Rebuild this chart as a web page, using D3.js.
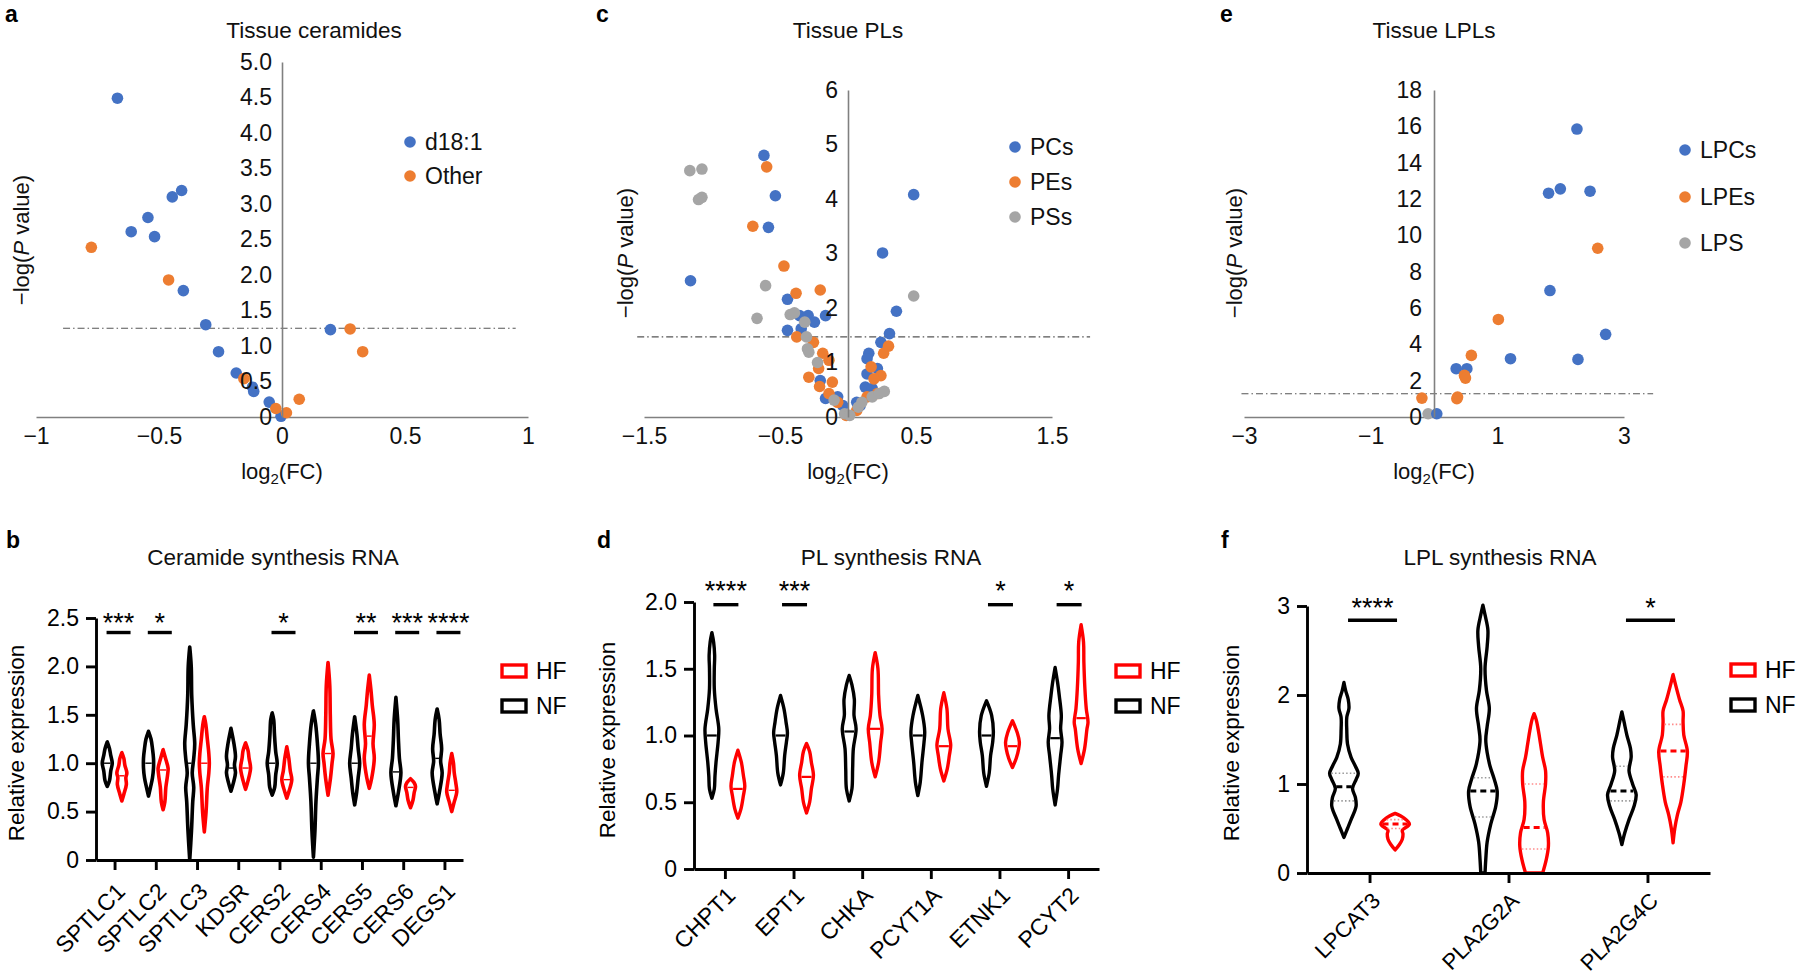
<!DOCTYPE html>
<html><head><meta charset="utf-8">
<script src="https://cdn.jsdelivr.net/npm/d3@7/dist/d3.min.js"></script>
<style>
html,body{margin:0;padding:0;background:#fff;}
svg{display:block;}
</style></head>
<body>
<svg id="chart" width="1800" height="980"></svg>
<script>
// ================= DATA =================
// Panel a: Tissue ceramides  [log2(FC), -log(P)]
const aD181 = [[-0.669,4.49],[-0.408,3.19],[-0.446,3.10],[-0.545,2.81],[-0.613,2.61],[-0.518,2.54],[-0.401,1.78],[-0.310,1.30],[-0.258,0.92],[-0.186,0.62],[-0.120,0.42],[-0.115,0.36],[-0.052,0.21],[-0.004,0.01],[0.197,1.23]];
const aOther = [[-0.775,2.39],[-0.461,1.93],[-0.155,0.54],[-0.025,0.12],[0.018,0.06],[0.070,0.25],[0.277,1.24],[0.328,0.92]];
const aThreshold = 1.25;
const aXTicks = [-1,-0.5,0,0.5,1];
const aXTickLabels = ["\u22121","\u22120.5","0","0.5","1"];
const aYTicks = [0,0.5,1,1.5,2,2.5,3,3.5,4,4.5,5];
const aYTickLabels = ["0","0.5","1.0","1.5","2.0","2.5","3.0","3.5","4.0","4.5","5.0"];

// Panel c: Tissue PLs
const cPCs = [[-0.618,4.80],[-0.534,4.06],[-0.585,3.48],[-1.158,2.50],[-0.445,2.16],[-0.356,1.86],[-0.293,1.86],[-0.247,1.74],[-0.165,1.86],[-0.445,1.59],[-0.344,1.62],[0.483,4.08],[0.254,3.01],[0.356,1.94],[0.305,1.53],[0.242,1.37],[0.153,1.17],[0.140,1.07],[0.140,0.79],[0.216,0.89],[0.127,0.55],[0.178,0.52],[0.064,0.27],[0.089,0.21],[-0.165,0.34],[-0.076,0.37],[-0.204,0.67],[-0.038,0.21]];
const cPEs = [[-0.598,4.59],[-0.700,3.50],[-0.471,2.77],[-0.382,2.27],[-0.204,2.33],[-0.377,1.47],[-0.254,1.37],[-0.186,1.17],[-0.140,1.04],[-0.216,0.89],[-0.288,0.73],[-0.115,0.64],[-0.209,0.56],[-0.140,0.43],[-0.076,0.27],[-0.013,0.03],[0.262,1.17],[0.298,1.30],[0.170,0.92],[0.242,0.76],[0.191,0.70],[0.216,0.43],[0.140,0.37],[0.064,0.12]];
const cPSs = [[-1.163,4.52],[-1.074,4.55],[-1.099,3.99],[-1.074,4.03],[-0.606,2.41],[-0.669,1.81],[-0.425,1.88],[-0.394,1.91],[-0.318,1.74],[-0.305,1.47],[-0.298,1.25],[-0.288,1.19],[-0.224,1.00],[-0.102,0.31],[-0.025,0.06],[0.013,0.03],[0.076,0.18],[0.102,0.27],[0.178,0.37],[0.229,0.43],[0.267,0.47],[0.483,2.22]];
const cThreshold = 1.47;
const cXTicks = [-1.5,-0.5,0.5,1.5];
const cXTickLabels = ["\u22121.5","\u22120.5","0.5","1.5"];
const cYTicks = [0,1,2,3,4,5,6];
const cYTickLabels = ["0","1","2","3","4","5","6"];

// Panel e: Tissue LPLs
const ePCs = [[2.257,15.85],[1.809,12.32],[1.995,12.56],[2.464,12.43],[1.831,6.96],[2.710,4.55],[1.208,3.21],[2.273,3.17],[0.350,2.66],[0.519,2.66],[0.044,0.18]];
const ePEs = [[2.585,9.29],[1.016,5.37],[0.590,3.39],[0.481,2.29],[0.497,2.14],[-0.191,1.04],[0.372,1.10],[0.361,1.01]];
const ePS = [[-0.093,0.18]];
const eThreshold = 1.28;
const eXTicks = [-3,-1,1,3];
const eXTickLabels = ["\u22123","\u22121","1","3"];
const eYTicks = [0,2,4,6,8,10,12,14,16,18];
const eYTickLabels = ["0","2","4","6","8","10","12","14","16","18"];

// Panel b: Ceramide synthesis RNA  (violin profiles: [value, relative density])
const bGenes = ["SPTLC1","SPTLC2","SPTLC3","KDSR","CERS2","CERS4","CERS5","CERS6","DEGS1"];
const bNF = [
  [[0.76,0],[0.82,0.45],[0.92,0.7],[1.0,1],[1.08,0.7],[1.15,0.45],[1.22,0]],
  [[0.66,0],[0.75,0.4],[0.85,0.8],[0.95,1],[1.05,1],[1.15,0.8],[1.25,0.5],[1.33,0]],
  [[0,0],[0.3,0.35],[0.6,0.6],[0.75,0.8],[0.9,0.5],[1.05,0.8],[1.2,1],[1.4,0.7],[1.7,0.4],[2.0,0.3],[2.2,0]],
  [[0.71,0],[0.8,0.5],[0.9,0.9],[0.98,0.7],[1.07,0.9],[1.2,0.6],[1.36,0]],
  [[0.67,0],[0.75,0.5],[0.88,0.7],[1.0,1],[1.12,0.7],[1.3,0.45],[1.45,0.3],[1.52,0]],
  [[0.03,0],[0.3,0.3],[0.6,0.5],[0.85,0.8],[1.0,1],[1.2,0.8],[1.4,0.45],[1.54,0]],
  [[0.57,0],[0.7,0.4],[0.85,0.7],[1.0,1],[1.15,0.7],[1.3,0.45],[1.48,0]],
  [[0.56,0],[0.7,0.5],[0.9,1],[1.05,0.7],[1.25,0.5],[1.45,0.35],[1.68,0]],
  [[0.58,0],[0.7,0.45],[0.9,1],[1.02,0.7],[1.15,0.9],[1.3,0.6],[1.45,0.4],[1.56,0]]
];
const bHF = [
  [[0.61,0],[0.68,0.4],[0.78,0.9],[0.85,0.8],[0.9,1],[0.98,0.6],[1.05,0.4],[1.11,0]],
  [[0.52,0],[0.6,0.35],[0.75,0.55],[0.88,0.9],[0.95,1],[1.03,0.6],[1.14,0]],
  [[0.29,0],[0.5,0.35],[0.75,0.6],[0.9,0.9],[1.0,1],[1.1,0.9],[1.25,0.6],[1.4,0.3],[1.48,0]],
  [[0.73,0],[0.82,0.5],[0.95,1],[1.05,0.7],[1.13,0.5],[1.21,0]],
  [[0.64,0],[0.72,0.5],[0.83,1],[0.92,0.7],[1.05,0.4],[1.17,0]],
  [[0.67,0],[0.85,0.5],[1.0,0.8],[1.1,1],[1.25,0.6],[1.5,0.45],[1.8,0.35],[2.04,0]],
  [[0.74,0],[0.85,0.5],[1.05,1],[1.2,0.75],[1.4,1],[1.6,0.6],[1.75,0.35],[1.91,0]],
  [[0.54,0],[0.62,0.5],[0.7,0.75],[0.76,1],[0.8,0.7],[0.84,0]],
  [[0.5,0],[0.6,0.5],[0.7,1],[0.8,0.8],[0.9,0.5],[1.0,0.35],[1.1,0]]
];
const bNFMedian = [1.0,1.0,1.0,0.95,1.0,1.0,1.0,0.91,1.05];
const bHFMedian = [0.87,0.93,1.0,0.95,0.83,1.1,1.28,0.75,0.72];
const bSig = [["SPTLC1","***"],["SPTLC2","*"],["CERS2","*"],["CERS5","**"],["CERS6","***"],["DEGS1","****"]];
const bYTicks = [0,0.5,1,1.5,2,2.5];
const bYTickLabels = ["0","0.5","1.0","1.5","2.0","2.5"];

// Panel d: PL synthesis RNA
const dGenes = ["CHPT1","EPT1","CHKA","PCYT1A","ETNK1","PCYT2"];
const dNF = [
  [[0.53,0],[0.6,0.35],[0.7,0.45],[0.8,0.6],[0.95,0.9],[1.05,1],[1.2,0.6],[1.35,0.35],[1.5,0.35],[1.6,0.4],[1.7,0.25],[1.77,0]],
  [[0.63,0],[0.72,0.4],[0.85,0.6],[0.95,0.85],[1.02,1],[1.1,0.8],[1.2,0.5],[1.3,0]],
  [[0.51,0],[0.6,0.4],[0.75,0.5],[0.9,0.6],[1.05,1],[1.15,0.7],[1.27,0.75],[1.38,0.4],[1.45,0]],
  [[0.55,0],[0.65,0.35],[0.8,0.6],[0.95,0.9],[1.03,1],[1.15,0.7],[1.3,0]],
  [[0.62,0],[0.72,0.4],[0.85,0.6],[0.95,0.9],[1.03,1],[1.15,0.75],[1.26,0]],
  [[0.48,0],[0.6,0.35],[0.7,0.5],[0.85,0.8],[0.95,1],[1.05,0.8],[1.15,0.9],[1.3,0.6],[1.4,0.35],[1.51,0]]
];
const dHF = [
  [[0.38,0],[0.45,0.45],[0.55,0.8],[0.62,1],[0.7,0.8],[0.8,0.5],[0.89,0]],
  [[0.42,0],[0.5,0.45],[0.6,0.7],[0.7,1],[0.8,0.7],[0.88,0.45],[0.94,0]],
  [[0.69,0],[0.8,0.5],[0.95,0.8],[1.05,1],[1.15,0.7],[1.3,0.5],[1.5,0.4],[1.62,0]],
  [[0.66,0],[0.75,0.5],[0.85,0.8],[0.93,1],[1.05,0.6],[1.2,0.45],[1.32,0]],
  [[0.76,0],[0.83,0.55],[0.9,0.9],[0.95,1],[1.02,0.7],[1.11,0]],
  [[0.79,0],[0.9,0.5],[1.05,0.85],[1.1,1],[1.2,0.75],[1.35,0.55],[1.55,0.4],[1.7,0.35],[1.83,0]]
];
const dNFMedian = [1.0,1.0,1.03,1.0,1.0,0.98];
const dHFMedian = [0.6,0.69,1.05,0.92,0.92,1.13];
const dSig = [["CHPT1","****"],["EPT1","***"],["ETNK1","*"],["PCYT2","*"]];
const dYTicks = [0,0.5,1,1.5,2];
const dYTickLabels = ["0","0.5","1.0","1.5","2.0"];

// Panel f: LPL synthesis RNA
const fGenes = ["LPCAT3","PLA2G2A","PLA2G4C"];
const fNF = [
  [[0.4,0],[0.5,0.25],[0.6,0.5],[0.75,0.85],[0.85,0.8],[0.95,0.6],[1.05,0.85],[1.12,1],[1.2,0.8],[1.3,0.5],[1.45,0.25],[1.6,0.2],[1.75,0.2],[1.85,0.35],[1.95,0.3],[2.05,0.12],[2.14,0]],
  [[0,0.15],[0.15,0.2],[0.35,0.3],[0.55,0.55],[0.75,0.9],[0.92,1],[1.05,0.8],[1.2,0.5],[1.35,0.3],[1.5,0.2],[1.65,0.3],[1.85,0.45],[2.05,0.25],[2.3,0.15],[2.55,0.3],[2.73,0.35],[2.9,0.15],[3.01,0]],
  [[0.32,0],[0.45,0.2],[0.6,0.5],[0.75,0.85],[0.88,1],[1.0,0.75],[1.15,0.5],[1.3,0.65],[1.4,0.6],[1.55,0.35],[1.7,0.15],[1.81,0]]
];
const fHF = [
  [[0.26,0],[0.32,0.3],[0.38,0.5],[0.44,0.55],[0.48,0.5],[0.55,1],[0.62,0.6],[0.67,0]],
  [[0,0.6],[0.15,0.85],[0.3,1],[0.45,0.95],[0.6,0.7],[0.8,0.65],[1.0,0.8],[1.15,0.8],[1.3,0.6],[1.45,0.45],[1.6,0.3],[1.72,0.15],[1.79,0]],
  [[0.34,0],[0.5,0.12],[0.65,0.3],[0.8,0.55],[1.0,0.75],[1.2,0.9],[1.37,1],[1.55,0.75],[1.7,0.7],[1.82,0.7],[1.95,0.45],[2.1,0.2],[2.23,0]]
];
const fNFMedian = [0.97,0.92,0.92];
const fHFMedian = [0.55,0.51,1.37];
const fNFQuart = [[0.81,1.12],[0.63,1.07],[0.81,1.2]];
const fHFQuart = [[0.5,0.6],[0.27,1.0],[1.08,1.67]];
const fSig = [["LPCAT3","****"],["PLA2G4C","*"]];
const fYTicks = [0,1,2,3];
const fYTickLabels = ["0","1","2","3"];

// ================= STYLE =================
const FONT = "'Liberation Sans', Arial, Helvetica, sans-serif";
const BLUE = "#4472C4", ORANGE = "#ED7D31", GRAY = "#A5A5A5";
const RED = "#FF0000", BLACK = "#000000";
const svg = d3.select("#chart").attr("font-family", FONT);

function letter(txt, x, y) {
  svg.append("text").attr("x", x).attr("y", y).attr("font-size", 23).attr("font-weight", "bold").attr("fill", "#000").text(txt);
}
function title(txt, x, y) {
  svg.append("text").attr("x", x).attr("y", y).attr("text-anchor", "middle").attr("font-size", 22.5).attr("fill", "#111").text(txt);
}

// ================= VOLCANO =================
function volcano(o) {
  const x = d3.scaleLinear().domain(o.xDomain).range(o.xRange);
  const y = d3.scaleLinear().domain(o.yDomain).range(o.yRange);
  const g = svg.append("g");

  g.append("line")
    .attr("x1", x(o.thrSpan[0])).attr("x2", x(o.thrSpan[1]))
    .attr("y1", y(o.thr)).attr("y2", y(o.thr))
    .attr("stroke", "#555").attr("stroke-width", 1.2).attr("stroke-dasharray", "7,3,1.5,3");

  const xa = g.append("g").attr("transform", `translate(0,${y(0)})`)
    .call(d3.axisBottom(x).tickValues(o.xTicks).tickFormat((d, i) => o.xLabels[i]).tickSize(0).tickSizeOuter(0).tickPadding(11));
  const ya = g.append("g").attr("transform", `translate(${x(0)},0)`)
    .call(d3.axisLeft(y).tickValues(o.yTicks).tickFormat((d, i) => o.yLabels[i]).tickSize(0).tickSizeOuter(0).tickPadding(o.yPad));
  [xa, ya].forEach(a => {
    a.attr("font-family", FONT).attr("font-size", 23);
    a.select(".domain").attr("stroke", "#808080").attr("stroke-width", 1.6);
    a.selectAll("text").attr("fill", "#111");
  });

  o.series.forEach(s => {
    g.append("g").selectAll("circle").data(s.data).join("circle")
      .attr("cx", d => x(d[0])).attr("cy", d => y(d[1])).attr("r", 5.8).attr("fill", s.color);
  });
  ya.raise();

  o.legend.forEach((s, i) => {
    g.append("circle").attr("cx", o.legX).attr("cy", o.legY[i]).attr("r", 5.8).attr("fill", s.color);
    g.append("text").attr("x", o.legX + 15).attr("y", o.legY[i]).attr("dy", "0.35em")
      .attr("font-size", 23).attr("fill", "#111").text(s.name);
  });

  const yl = g.append("text").attr("transform", `translate(${o.yLabX},${o.yLabY}) rotate(-90)`)
    .attr("text-anchor", "middle").attr("dy", "0.35em").attr("font-size", 22).attr("fill", "#111");
  yl.append("tspan").text("\u2212log(");
  yl.append("tspan").attr("font-style", "italic").text("P");
  yl.append("tspan").text(" value)");
  const xl = g.append("text").attr("x", x(0)).attr("y", 479).attr("text-anchor", "middle").attr("font-size", 22).attr("fill", "#111");
  xl.append("tspan").text("log");
  xl.append("tspan").attr("font-size", 15).attr("dy", 5).text("2");
  xl.append("tspan").attr("dy", -5).text("(FC)");

  title(o.title, o.titleX, 38);
}

volcano({
  xDomain: [-1, 1], xRange: [36, 528], yDomain: [0, 5], yRange: [417, 62],
  xTicks: aXTicks, xLabels: aXTickLabels, yTicks: aYTicks, yLabels: aYTickLabels, yPad: 10,
  thr: aThreshold, thrSpan: [-0.89, 0.95],
  series: [{ data: aD181, color: BLUE }, { data: aOther, color: ORANGE }],
  legend: [{ name: "d18:1", color: BLUE }, { name: "Other", color: ORANGE }],
  legX: 410, legY: [142, 176],
  yLabX: 21, yLabY: 240, title: "Tissue ceramides", titleX: 314
});
volcano({
  xDomain: [-1.5, 1.5], xRange: [644, 1052], yDomain: [0, 6], yRange: [417, 90],
  xTicks: cXTicks, xLabels: cXTickLabels, yTicks: cYTicks, yLabels: cYTickLabels, yPad: 10,
  thr: cThreshold, thrSpan: [-1.55, 1.78],
  series: [{ data: cPCs, color: BLUE }, { data: cPEs, color: ORANGE }, { data: cPSs, color: GRAY }],
  legend: [{ name: "PCs", color: BLUE }, { name: "PEs", color: ORANGE }, { name: "PSs", color: GRAY }],
  legX: 1015, legY: [147, 182, 217],
  yLabX: 625, yLabY: 253, title: "Tissue PLs", titleX: 848
});
volcano({
  xDomain: [-3, 3], xRange: [1244, 1624], yDomain: [0, 18], yRange: [417, 90],
  xTicks: eXTicks, xLabels: eXTickLabels, yTicks: eYTicks, yLabels: eYTickLabels, yPad: 12,
  thr: eThreshold, thrSpan: [-3.04, 3.46],
  series: [{ data: ePS, color: GRAY }, { data: ePCs, color: BLUE }, { data: ePEs, color: ORANGE }],
  legend: [{ name: "LPCs", color: BLUE }, { name: "LPEs", color: ORANGE }, { name: "LPS", color: GRAY }],
  legX: 1685, legY: [150, 197, 243],
  yLabX: 1234, yLabY: 253, title: "Tissue LPLs", titleX: 1434
});

// ================= VIOLINS =================
function violinPanel(o) {
  const x = d3.scalePoint().domain(o.genes).range(o.xRange).padding(0.45);
  const y = d3.scaleLinear().domain(o.yDomain).range(o.yRange);
  const g = svg.append("g");
  const wS = d3.scaleLinear().domain([0, 1]).range([0, o.maxHW]);

  const groups = [
    { color: BLACK, prof: o.nf, med: o.nfMed, q: o.nfQ, off: -o.off, qColor: "#9a9a9a" },
    { color: RED, prof: o.hf, med: o.hfMed, q: o.hfQ, off: o.off, qColor: "#ff8a8a" }
  ];
  groups.forEach(gr => {
    o.genes.forEach((gene, i) => {
      const prof = gr.prof[i];
      const cx = x(gene) + gr.off;
      const area = d3.area().curve(d3.curveCatmullRom.alpha(0.5))
        .y(d => y(d[0])).x0(d => cx - wS(d[1])).x1(d => cx + wS(d[1]));
      g.append("path").attr("d", area(prof)).attr("fill", "#fff")
        .attr("stroke", gr.color).attr("stroke-width", o.sw).attr("stroke-linejoin", "round");
      const wAt = d3.scaleLinear().domain(prof.map(p => p[0])).range(prof.map(p => p[1])).clamp(true);
      const hwAt = v => Math.max(0, wS(wAt(v)) - o.sw / 2);
      if (gr.q) {
        gr.q[i].forEach(v => {
          const hw = hwAt(v);
          g.append("line").attr("x1", cx - hw).attr("x2", cx + hw).attr("y1", y(v)).attr("y2", y(v))
            .attr("stroke", gr.qColor).attr("stroke-width", 1.6).attr("stroke-dasharray", "1.5,2.2");
        });
      }
      const m = gr.med[i], hw = hwAt(m);
      g.append("line").attr("x1", cx - hw).attr("x2", cx + hw).attr("y1", y(m)).attr("y2", y(m))
        .attr("stroke", gr.color).attr("stroke-width", o.medW)
        .attr("stroke-dasharray", o.medDash || null);
    });
  });

  const ya = g.append("g").attr("transform", `translate(${o.xRange[0]},0)`)
    .call(d3.axisLeft(y).tickValues(o.yTicks).tickFormat((d, i) => o.yLabels[i]).tickSize(10).tickSizeOuter(0).tickPadding(7));
  const xa = g.append("g").attr("transform", `translate(0,${o.yRange[0]})`)
    .call(d3.axisBottom(x).tickSize(10).tickSizeOuter(0).tickFormat(""));
  [ya, xa].forEach(a => {
    a.attr("font-family", FONT).attr("font-size", 23).attr("color", "#000");
    a.selectAll("path,line").attr("stroke-width", 2.9);
  });
  g.selectAll(".cat").data(o.genes).join("text").attr("class", "cat")
    .attr("transform", d => `translate(${x(d) + o.labDx},${o.yRange[0] + o.labDy}) rotate(-45)`)
    .attr("text-anchor", "end").attr("font-size", o.labFs).attr("fill", "#000").text(d => d);

  o.sig.forEach(([gene, stars]) => {
    const cx = x(gene) + o.sigDx;
    const yy = y(o.sigLevel);
    g.append("line").attr("x1", cx - o.sigHalf).attr("x2", cx + o.sigHalf).attr("y1", yy).attr("y2", yy)
      .attr("stroke", "#000").attr("stroke-width", 3.4);
    g.append("text").attr("x", cx).attr("y", yy - o.starGap).attr("text-anchor", "middle")
      .attr("font-size", 27).attr("fill", "#000").text(stars);
  });

  [["HF", RED], ["NF", BLACK]].forEach(([lab, col], i) => {
    g.append("rect").attr("x", o.legX).attr("y", o.legY[i] - 6).attr("width", 24).attr("height", 12)
      .attr("fill", "none").attr("stroke", col).attr("stroke-width", 3.4);
    g.append("text").attr("x", o.legX + 34).attr("y", o.legY[i]).attr("dy", "0.36em")
      .attr("font-size", 23).attr("fill", "#000").text(lab);
  });

  g.append("text").attr("transform", `translate(${o.yLabX},${o.yLabY}) rotate(-90)`)
    .attr("text-anchor", "middle").attr("dy", "0.35em").attr("font-size", 22.5).attr("fill", "#000")
    .text("Relative expression");
  title(o.title, o.titleX, 565);
}

violinPanel({
  genes: bGenes, nf: bNF, hf: bHF, nfMed: bNFMedian, hfMed: bHFMedian,
  xRange: [96, 463], yDomain: [0, 2.5], yRange: [860, 618],
  yTicks: bYTicks, yLabels: bYTickLabels,
  maxHW: 5, sw: 3.6, off: 7.3, medW: 1.4,
  labDx: 12, labDy: 33, labFs: 23,
  sig: bSig, sigLevel: 2.35, sigDx: 4, sigHalf: 12, starGap: 1,
  legX: 502, legY: [671, 706],
  yLabX: 16, yLabY: 743, title: "Ceramide synthesis RNA", titleX: 273
});
violinPanel({
  genes: dGenes, nf: dNF, hf: dHF, nfMed: dNFMedian, hfMed: dHFMedian,
  xRange: [694, 1099], yDomain: [0, 2], yRange: [869, 602],
  yTicks: dYTicks, yLabels: dYTickLabels,
  maxHW: 6.9, sw: 3.4, off: 13, medW: 2.2,
  labDx: 12, labDy: 28, labFs: 23,
  sig: dSig, sigLevel: 1.98, sigDx: 1, sigHalf: 12.5, starGap: 5,
  legX: 1116, legY: [671, 706],
  yLabX: 607, yLabY: 740, title: "PL synthesis RNA", titleX: 891
});
violinPanel({
  genes: fGenes, nf: fNF, hf: fHF, nfMed: fNFMedian, hfMed: fHFMedian, nfQ: fNFQuart, hfQ: fHFQuart,
  xRange: [1307, 1710], yDomain: [0, 3], yRange: [873, 606],
  yTicks: fYTicks, yLabels: fYTickLabels,
  maxHW: 14.3, sw: 3.4, off: 25.6, medW: 3, medDash: "6,4",
  labDx: 12, labDy: 29, labFs: 22,
  sig: fSig, sigLevel: 2.84, sigDx: 3, sigHalf: 24.5, starGap: 3,
  legX: 1731, legY: [670, 705],
  yLabX: 1231, yLabY: 743, title: "LPL synthesis RNA", titleX: 1500
});

letter("a", 5, 22); letter("c", 596, 22); letter("e", 1220, 22);
letter("b", 6, 548); letter("d", 597, 548); letter("f", 1221, 548);
</script>
</body></html>
